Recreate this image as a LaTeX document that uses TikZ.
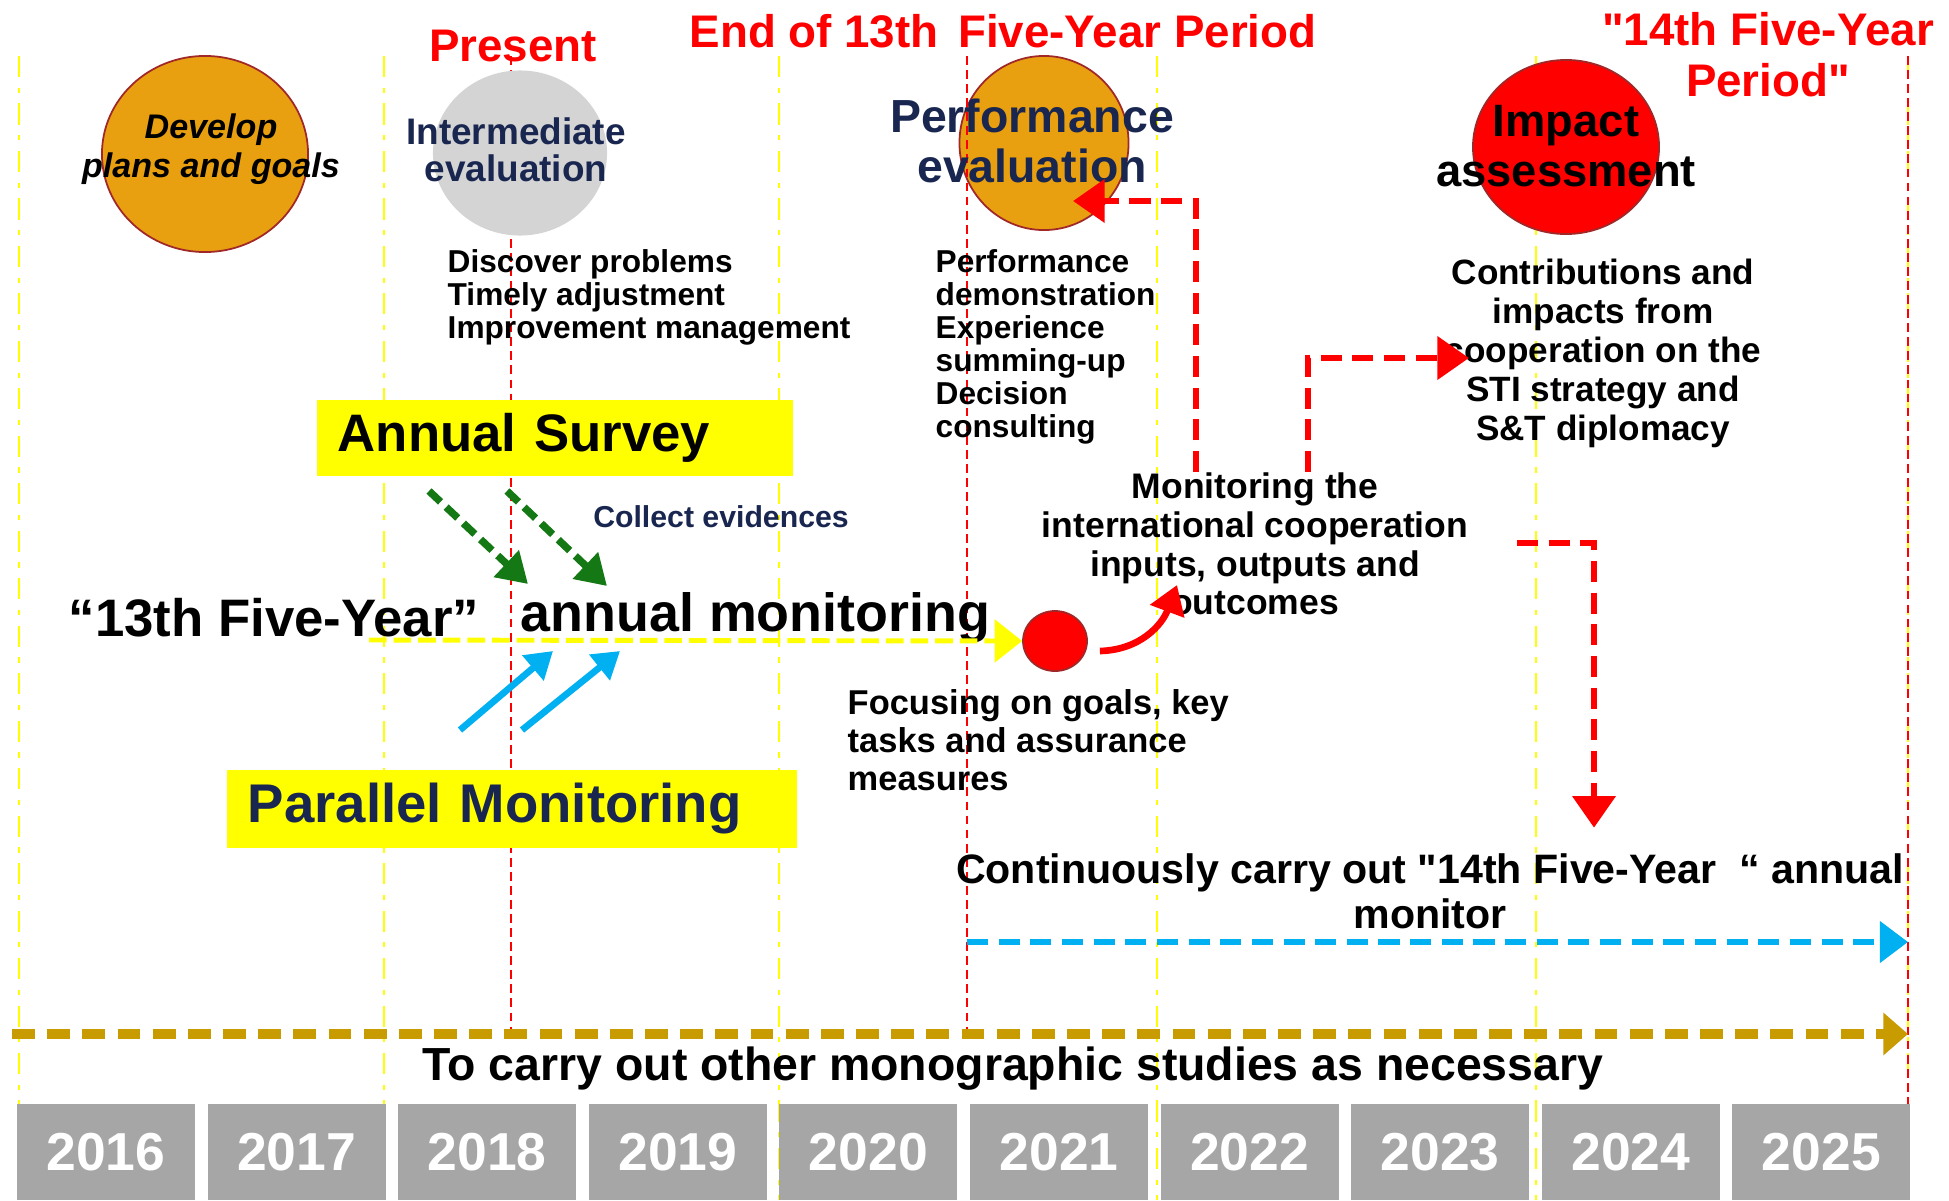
\documentclass[tikz,border=0pt]{standalone}
\usepackage{fontspec}
\setmainfont{Liberation Sans}[Ligatures=TeXOff]
\usetikzlibrary{arrows.meta,positioning,shapes.geometric,calc}
\definecolor{tlorange}{RGB}{233,160,16}
\definecolor{tlgray}{RGB}{166,166,166}
\definecolor{tlcircle}{RGB}{212,212,212}
\definecolor{tlnavy}{RGB}{24,38,80}
\definecolor{tlgold}{RGB}{200,155,0}
\definecolor{tlblue}{RGB}{0,176,240}
\definecolor{tlgreen}{RGB}{20,120,20}
\definecolor{tlyellow}{RGB}{255,255,0}
\definecolor{tlred}{RGB}{255,0,0}
\definecolor{tlrim}{RGB}{160,40,40}

\begin{document}
\begin{tikzpicture}[x=0.01cm, y=-0.01cm,
  every node/.style={inner sep=0pt},
  vyel/.style={tlyellow, line width=0.8pt, dash pattern=on 6pt off 3pt on 1.5pt off 3pt},
  vred/.style={tlred, line width=0.8pt, dash pattern=on 2.5pt off 1.5pt},
  stage/.style={ellipse, draw=tlrim, line width=0.5pt},
  periodlabel/.style={text=tlred, font=\bfseries\fontsize{13}{14.5}\selectfont, align=center},
  notetext/.style={font=\bfseries\fontsize{9}{9.4}\selectfont, align=left, anchor=west},
  ybox/.style={fill=tlyellow, align=left, inner xsep=0.21cm},
  yearbox/.style={fill=tlgray, minimum width=1.78cm, minimum height=0.96cm,
    text=white, font=\bfseries\fontsize{15.2}{15.2}\selectfont},
  reddash/.style={tlred, line width=1.9pt, dash pattern=on 6pt off 3pt,
    -{Triangle[length=9pt,width=12pt]}},
  greendash/.style={tlgreen, line width=2.1pt, dash pattern=on 4.5pt off 2.2pt,
    -{Triangle[length=8.5pt,width=10pt]}},
  bluearrow/.style={tlblue, line width=1.9pt, -{Triangle[length=7.5pt,width=9pt]}}
]
\useasboundingbox (0,0) rectangle (1949,1200);
% year grid
\foreach \x in {19,384,779,1157,1536,1908}
  \draw[vyel] (\x,56) -- (\x,1200);
\draw[vred] (511,56) -- (511,1034);
\draw[vred] (967,56) -- (967,1034);
\draw[vred] (1908,56) -- (1908,1104);
% period labels
\node[periodlabel] (present) at (513,46) {Present};
\node[periodlabel] (end13) at (1003,31) {End of 13th\hspace{0.15em} Five-Year Period};
\node[periodlabel] (p14) at (1768,55) {"14th Five-Year\\Period"};
% evaluation stages
\node[stage, fill=tlorange, minimum width=2.06cm, minimum height=1.96cm] (plan) at (205,154) {};
\node[font=\bfseries\itshape\fontsize{9.7}{11}\selectfont, align=center] (plantext) at (211,149) {Develop\\plans and goals};
\node[ellipse, fill=tlcircle, minimum width=1.74cm, minimum height=1.65cm] (mid) at (520,153) {};
\node[text=tlnavy, font=\bfseries\fontsize{10.5}{10.6}\selectfont, align=center] (midtext) at (516,150) {Intermediate\\evaluation};
\node[stage, fill=tlorange, minimum width=1.69cm, minimum height=1.74cm] (perf) at (1044,143) {};
\draw[vred] (967,56) -- (967,232);
\node[text=tlnavy, font=\bfseries\fontsize{13.2}{14}\selectfont, align=center] (perftext) at (1032,141) {Performance\\evaluation};
\node[stage, fill=tlred, minimum width=1.86cm, minimum height=1.74cm] (impact) at (1566,147) {};
\node[font=\bfseries\fontsize{12.9}{14}\selectfont, align=center] (impacttext) at (1566,146) {Impact\\assessment};
% notes under the stages
\node[notetext] (disc) at (447,297) {Discover problems\\Timely adjustment\\Improvement management};
\node[notetext] (perfnotes) at (935,347) {Performance\\demonstration\\Experience\\summing-up\\Decision\\consulting};
\node[font=\bfseries\fontsize{10}{11.1}\selectfont, align=center] (contrib) at (1603,353)
  {Contributions and\\impacts from\\cooperation on the\\STI strategy and\\S\&T diplomacy};
\node[font=\bfseries\fontsize{10.1}{11}\selectfont, align=center] (monit) at (1255,544)
  {Monitoring the\\international cooperation\\inputs, outputs and\\outcomes};
\node[notetext, font=\bfseries\fontsize{9.8}{10.8}\selectfont] (focus) at (847,740)
  {Focusing on goals, key\\tasks and assurance\\measures};
\node[font=\bfseries\fontsize{11.7}{12.8}\selectfont, align=center] (contin) at (1430,891)
  {Continuously carry out "14th Five-Year\ \ “ annual\\monitor};
\node[font=\bfseries\fontsize{13.2}{14}\selectfont] (other) at (1013,1069)
  {To carry out other monographic studies as necessary};
% survey and parallel monitoring
\node[ybox, minimum height=0.75cm, text width=4.34cm, font=\bfseries\fontsize{15}{15}\selectfont] (survey) at (555,438) {Annual Survey};
\node[ybox, minimum height=0.77cm, text width=5.28cm, text=tlnavy, font=\bfseries\fontsize{15.5}{15.5}\selectfont] (parallel) at (512,809) {Parallel Monitoring};
\node[text=tlnavy, font=\bfseries\fontsize{8.6}{9}\selectfont] (collect) at (721,517) {Collect evidences};
% annual monitoring line
\node[font=\bfseries\fontsize{15}{15}\selectfont, anchor=west] (fiveyear) at (68,618) {“13th Five-Year”};
\node[font=\bfseries\fontsize{15.3}{15.3}\selectfont, anchor=west] (annual) at (520,618) {annual monitoring};
\node[ellipse, fill=tlred, draw=tlrim, line width=0.5pt, minimum width=0.64cm, minimum height=0.6cm] (dot) at (1055,641) {};
\coordinate (ystart) at (369,640);
\draw[tlyellow, line width=1.4pt, dash pattern=on 5pt off 2pt, -{Triangle[length=7.8pt,width=12pt]}] (ystart) -- (dot.west);
% evidence arrows
\coordinate (g1) at (429,491);
\coordinate (g1e) at (528,584);
\coordinate (g2) at (507,491);
\coordinate (g2e) at (607,586);
\draw[greendash] (g1) -- (g1e);
\draw[greendash] (g2) -- (g2e);
\coordinate (b1) at (460,730);
\coordinate (b1e) at (553,651);
\coordinate (b2) at (522,730);
\coordinate (b2e) at (620,651);
\draw[bluearrow] (b1) -- (b1e);
\draw[bluearrow] (b2) -- (b2e);
% from the dot to monitoring
\coordinate (c2) at (1177,585);
\draw[tlred, line width=1.9pt, -{Triangle[length=8pt,width=10pt]}] ([shift={(12,10)}]dot.east) .. controls (1140,650) and (1162,625) .. (c2);
% feedback loops
\coordinate (m1) at (1196,472);
\coordinate (m2) at (1308,472);
\coordinate (m3) at (1517,543);
\draw[reddash] (m1) |- ([shift={(29,58)}]perf.center);
\draw[reddash] (m2) |- (1469,358);
\draw[reddash] (m3) -| ([shift={(164,-25)}]contin.north);
% long arrows
\coordinate (cstart) at (967,942);
\coordinate (cend) at (1908,942);
\draw[tlblue, line width=1.8pt, dash pattern=on 6pt off 3pt, -{Triangle[length=8pt,width=11.5pt]}] (cstart) -- (cend);
\coordinate (ostart) at (12,1034);
\coordinate (oend) at (1908,1034);
\draw[tlgold, line width=2.6pt, dash pattern=on 6.5pt off 3.5pt, -{Triangle[length=7pt,width=11.7pt]}] (ostart) -- (oend);
% years
\foreach \i/\yr in {0/2016,1/2017,2/2018,3/2019,4/2020,5/2021,6/2022,7/2023,8/2024,9/2025}
  \node[yearbox] (y\yr) at ({106+190.6*\i},1152) {\yr};
\end{tikzpicture}
\end{document}
